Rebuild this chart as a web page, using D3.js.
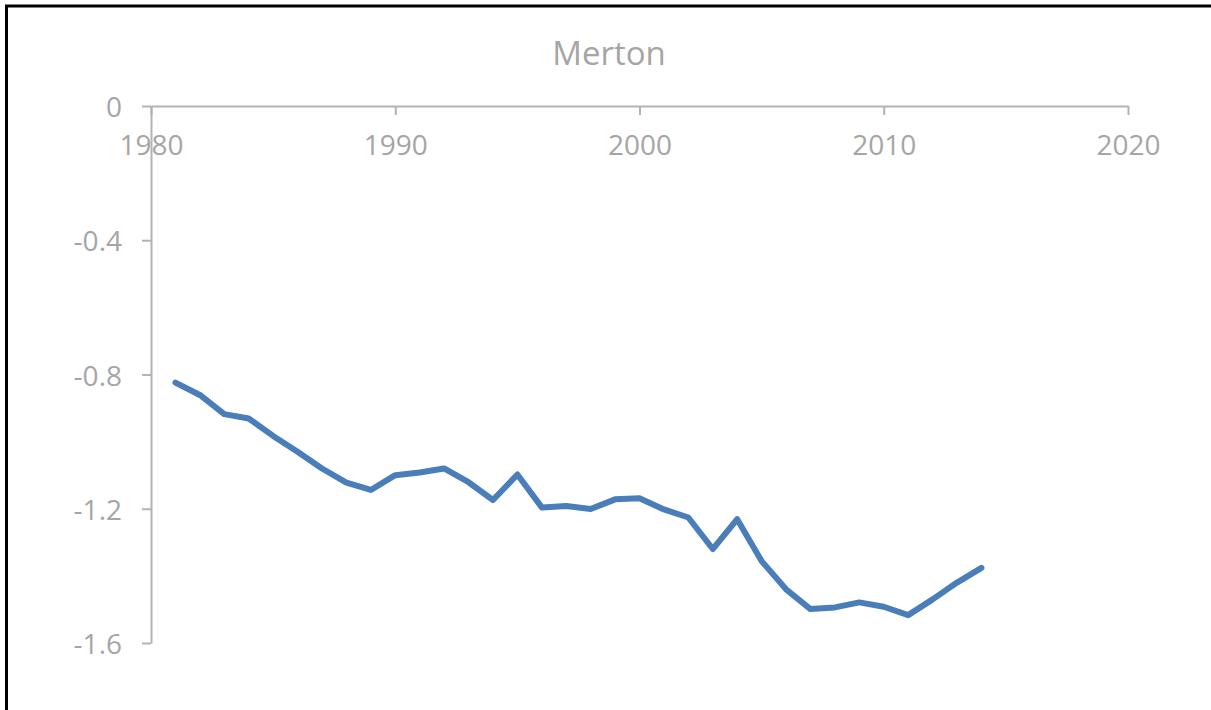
<!DOCTYPE html>
<html>
<head>
<meta charset="utf-8">
<script src="https://cdn.jsdelivr.net/npm/d3@7"></script>
<style>
  html, body { margin: 0; padding: 0; background: #fff; }
  svg { display: block; }
  text { font-family: "Open Sans", "Noto Sans", sans-serif; fill: #a5a5a5; }
</style>
</head>
<body>
<svg id="chart" width="1211" height="710"></svg>
<script>
// Merton series, one value per year
const years = [1981, 1982, 1983, 1984, 1985, 1986, 1987, 1988, 1989, 1990,
               1991, 1992, 1993, 1994, 1995, 1996, 1997, 1998, 1999, 2000,
               2001, 2002, 2003, 2004, 2005, 2006, 2007, 2008, 2009, 2010,
               2011, 2012, 2013, 2014];
const values = [-0.824, -0.861, -0.918, -0.931, -0.983, -1.030, -1.080, -1.122, -1.144, -1.100,
                -1.092, -1.080, -1.121, -1.174, -1.098, -1.196, -1.192, -1.201, -1.172, -1.169,
                -1.202, -1.226, -1.320, -1.231, -1.356, -1.440, -1.499, -1.494, -1.479, -1.492,
                -1.517, -1.470, -1.420, -1.376];
const xTicks = [1980, 1990, 2000, 2010, 2020];
const yTicks = [0, -0.4, -0.8, -1.2, -1.6];
const title = "Merton";

const svg = d3.select("#chart");
const W = 1211, H = 710;

// outer frame (runs off the right and bottom edges)
svg.append("rect")
  .attr("x", 6.5).attr("y", 6).attr("width", W + 10).attr("height", H + 10)
  .attr("fill", "none").attr("stroke", "#000").attr("stroke-width", 3);

const x = d3.scaleLinear().domain([1980, 2020]).range([151, 1128]);
const y = d3.scaleLinear().domain([-1.6, 0]).range([643, 106]);

const axisColor = "#b3b3b3";

// x axis along the zero line, ticks pointing down into the plot
const xAxis = svg.append("g").attr("transform", `translate(0,${y(0)})`)
  .call(d3.axisBottom(x).tickValues(xTicks).tickFormat(d3.format("d"))
        .tickSizeInner(9).tickSizeOuter(0));
xAxis.select(".domain").attr("stroke", axisColor).attr("stroke-width", 2);
xAxis.selectAll(".tick line").attr("stroke", axisColor).attr("stroke-width", 2);
xAxis.selectAll(".tick text").attr("fill", "#a5a5a5")
  .style("font-size", "28px").attr("y", 39).attr("dy", "0.36em");

// y axis at 1980
const yAxis = svg.append("g").attr("transform", `translate(${x(1980)},0)`)
  .call(d3.axisLeft(y).tickValues(yTicks)
        .tickFormat(d => d === 0 ? "0" : d3.format(".1f")(d).replace("\u2212", "-"))
        .tickSizeInner(9).tickSizeOuter(0).tickPadding(20));
yAxis.select(".domain").attr("stroke", axisColor).attr("stroke-width", 2);
yAxis.selectAll(".tick line").attr("stroke", axisColor).attr("stroke-width", 2);
yAxis.selectAll(".tick text").attr("fill", "#a5a5a5").style("font-size", "28px")
  .attr("dy", "0.38em");

// title
svg.append("text")
  .attr("x", 609).attr("y", 53).attr("dy", "0.36em")
  .attr("text-anchor", "middle")
  .style("font-size", "33px")
  .text(title);

// series line
const line = d3.line()
  .x((d, i) => x(years[i]))
  .y(d => y(d));

svg.append("path")
  .datum(values)
  .attr("fill", "none")
  .attr("stroke", "#4a7ebb")
  .attr("stroke-width", 6)
  .attr("stroke-linejoin", "round")
  .attr("stroke-linecap", "round")
  .attr("d", line);
</script>
</body>
</html>
